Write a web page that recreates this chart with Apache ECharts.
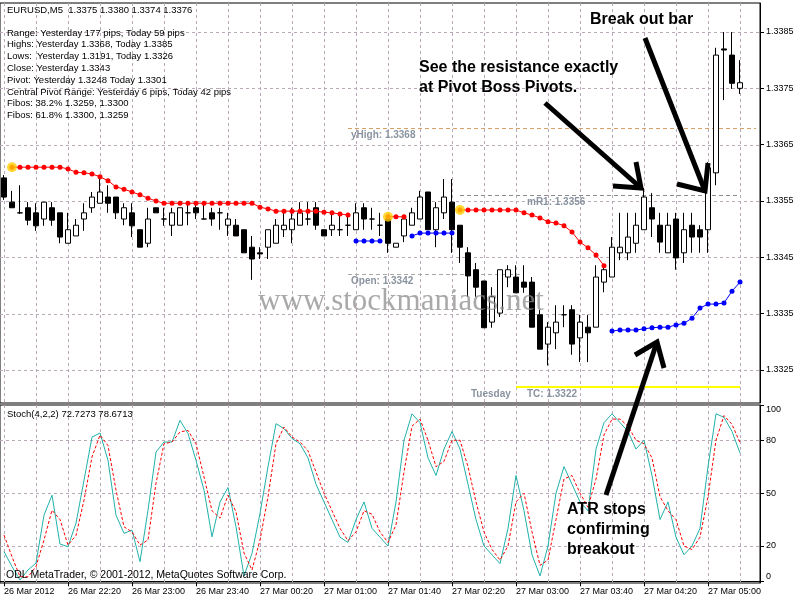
<!DOCTYPE html>
<html>
<head>
<meta charset="utf-8">
<script src="https://cdn.jsdelivr.net/npm/echarts@6/dist/echarts.min.js"></script>
<style>
html,body{margin:0;padding:0;background:#fff}
#chart{width:800px;height:600px}
</style>
</head>
<body>
<div id="chart"></div>
<script>
// EURUSD M5 bars, 26 Mar 2012 21:40 .. 27 Mar 05:20
const barOpen = [
 1.33591,1.33548,1.33529,1.33538,1.33529,1.33518,1.33538,1.33529,1.33475,1.33488,
 1.33518,1.33538,1.33546,1.33557,1.33557,1.33518,1.33529,1.33499,1.33475,1.33538,
 1.33518,1.33507,1.33507,1.33529,1.33538,1.33518,1.33529,1.33529,1.33507,1.33507,
 1.33499,1.33468,1.33458,1.33468,1.33475,1.33499,1.33499,1.33507,1.33518,1.33538,
 1.33499,1.33499,1.33499,1.33507,1.33499,1.33538,1.33518,1.33507,1.33518,1.33468,
 1.33488,1.33507,1.33518,1.33566,1.33499,1.33529,1.33548,1.33507,1.33458,1.33428,
 1.33408,1.33335,1.33351,1.33415,1.33415,1.33406,1.33406,1.33348,1.33296,1.33316,
 1.33348,1.33357,1.33307,1.33326,1.33326,1.33406,1.33415,1.33458,1.33458,1.33475,
 1.33499,1.33538,1.33507,1.33458,1.33518,1.33458,1.33507,1.33499,1.33499,1.33600,
 1.33820,1.33809,1.33750
];
const barHigh = [
 1.33596,1.33568,1.33578,1.33548,1.33546,1.33548,1.33548,1.33529,1.33529,1.33518,
 1.33546,1.33566,1.33596,1.33578,1.33557,1.33546,1.33546,1.33499,1.33538,1.33538,
 1.33538,1.33538,1.33538,1.33548,1.33548,1.33548,1.33538,1.33538,1.33529,1.33518,
 1.33499,1.33488,1.33468,1.33499,1.33518,1.33529,1.33538,1.33548,1.33548,1.33548,
 1.33499,1.33529,1.33529,1.33529,1.33546,1.33546,1.33538,1.33529,1.33518,1.33475,
 1.33525,1.33538,1.33568,1.33566,1.33548,1.33589,1.33589,1.33507,1.33468,1.33440,
 1.33408,1.33397,1.33428,1.33436,1.33436,1.33436,1.33415,1.33357,1.33335,1.33365,
 1.33365,1.33365,1.33348,1.33348,1.33436,1.33436,1.33486,1.33529,1.33529,1.33529,
 1.33573,1.33564,1.33529,1.33529,1.33529,1.33529,1.33529,1.33507,1.33619,1.33822,
 1.33850,1.33850,1.33800
];
const barLow = [
 1.33552,1.33538,1.33527,1.33507,1.33497,1.33506,1.33506,1.33475,1.33475,1.33488,
 1.33497,1.33529,1.33546,1.33529,1.33518,1.33507,1.33486,1.33468,1.33468,1.33529,
 1.33506,1.33488,1.33507,1.33507,1.33518,1.33518,1.33506,1.33499,1.33488,1.33488,
 1.33458,1.33410,1.33447,1.33447,1.33475,1.33486,1.33475,1.33507,1.33507,1.33499,
 1.33488,1.33488,1.33488,1.33488,1.33499,1.33499,1.33499,1.33488,1.33458,1.33468,
 1.33477,1.33507,1.33518,1.33499,1.33468,1.33518,1.33458,1.33440,1.33380,1.33380,
 1.33325,1.33325,1.33344,1.33397,1.33387,1.33387,1.33326,1.33287,1.33258,1.33287,
 1.33326,1.33277,1.33264,1.33264,1.33326,1.33388,1.33415,1.33445,1.33445,1.33458,
 1.33499,1.33486,1.33458,1.33458,1.33428,1.33440,1.33458,1.33458,1.33458,1.33578,
 1.33729,1.33749,1.33740
];
const barClose = [
 1.33557,1.33538,1.33529,1.33516,1.33506,1.33548,1.33516,1.33486,1.33499,1.33507,
 1.33529,1.33557,1.33566,1.33546,1.33529,1.33538,1.33506,1.33468,1.33518,1.33529,
 1.33518,1.33529,1.33538,1.33529,1.33529,1.33518,1.33518,1.33529,1.33518,1.33488,
 1.33458,1.33447,1.33456,1.33499,1.33507,1.33507,1.33518,1.33529,1.33518,1.33507,
 1.33488,1.33507,1.33499,1.33507,1.33529,1.33518,1.33518,1.33507,1.33475,1.33475,
 1.33518,1.33529,1.33557,1.33499,1.33538,1.33557,1.33499,1.33468,1.33417,1.33397,
 1.33325,1.33380,1.33428,1.33428,1.33387,1.33397,1.33326,1.33287,1.33326,1.33335,
 1.33348,1.33296,1.33335,1.33316,1.33415,1.33428,1.33468,1.33468,1.33486,1.33507,
 1.33557,1.33518,1.33477,1.33507,1.33449,1.33499,1.33486,1.33486,1.33609,1.33809,
 1.33818,1.33759,1.33760
];

// trailing stop dots: red above price, blue below price (null = not plotted)
const stopRed = [
 null,1.33610,1.33610,1.33610,1.33610,1.33610,1.33610,1.33610,1.33607,1.33601,
 1.33600,1.33598,1.33593,1.33586,1.33575,1.33571,1.33566,1.33561,1.33555,1.33550,
 1.33546,1.33546,1.33546,1.33546,1.33546,1.33546,1.33546,1.33546,1.33546,1.33546,
 1.33546,1.33546,1.33539,1.33536,1.33532,1.33532,1.33532,1.33532,1.33532,1.33532,
 1.33530,1.33529,1.33527,1.33525,null,null,null,null,1.33522,1.33522,
 1.33522,null,null,null,null,null,null,1.33534,1.33534,1.33534,
 1.33534,1.33534,1.33534,1.33534,1.33534,1.33529,1.33525,1.33520,1.33513,1.33511,
 1.33506,1.33495,1.33477,1.33467,1.33454,1.33435,null,null,null,null,
 null,null,null,null,null,null,null,null,null,null,
 null,null,null
];
const stopBlue = [
 null,null,null,null,null,null,null,null,null,null,
 null,null,null,null,null,null,null,null,null,null,
 null,null,null,null,null,null,null,null,null,null,
 null,null,null,null,null,null,null,null,null,null,
 null,null,null,null,1.33479,1.33479,1.33479,1.33479,null,null,
 null,1.33488,1.33493,1.33493,1.33493,1.33493,1.33493,null,null,null,
 null,null,null,null,null,null,null,null,null,null,
 null,null,null,null,null,null,1.33319,1.33321,1.33321,1.33321,
 1.33323,1.33325,1.33326,1.33326,1.33330,1.33333,1.33342,1.33360,1.33367,1.33367,
 1.33369,1.33390,1.33406
];
const stopStartBars = [1, 48, 57];

// Stochastic(4,2,2)
const stochMain = [
 16.8,8.3,0.7,6.4,10.3,37.5,48.8,21.1,19.6,33.0,
 57.3,81.8,84.1,68.6,37.5,27.2,29.0,11.1,40.3,73.3,
 79.0,79.0,91.3,83.8,68.6,51.7,25.2,45.0,53.2,30.9,
 3.0,15.8,38.5,65.0,89.4,86.6,81.0,78.0,70,55,
 45,35,25,22,35,45,30,25,20,45,
 80,95,90,70,60,75,85,75,55,35,
 20,15,10,30,60,40,15,3,20,50,
 65,55,45,40,75,90,95,90,85,75,
 80,60,35,45,25,15,20,30,65,95,
 93,85,72.73
];
const stochSignal = [
 26.2,13.9,2.6,2.5,8.3,23.4,40.3,35.0,20.5,26.0,
 46.0,70.5,82.9,77.0,51.7,30.9,28.0,20.5,23.4,55.6,
 78.0,79.0,84.7,85.6,78.0,59.2,40.0,35.8,48.8,39.4,
 16.0,6.4,23.4,47.9,78.0,87.5,81.8,79.0,74,62,
 50,40,30,23,28,40,38,28,22,32,
 62,88,92,80,65,68,80,80,65,45,
 28,18,12,20,45,50,28,9,12,35,
 58,60,50,42,58,83,92,92,88,80,
 78,70,48,40,35,20,18,25,48,80,
 94,89,78.67
];

const priceTicks = [1.3325, 1.3335, 1.3345, 1.3355, 1.3365, 1.3375, 1.3385];
const stochTicks = [0, 20, 50, 80, 100];
const stochLevels = [20, 50, 80];
const timeLabels = ['26 Mar 2012','26 Mar 22:20','26 Mar 23:00','26 Mar 23:40',
 '27 Mar 00:20','27 Mar 01:00','27 Mar 01:40','27 Mar 02:20','27 Mar 03:00',
 '27 Mar 03:40','27 Mar 04:20','27 Mar 05:00'];

// levels drawn by the pivot indicator
const yHigh = 1.3368, dayOpen = 1.3342, mR1 = 1.3356, tcLevel = 1.3322;
const bid = barClose[barClose.length - 1];

const infoLines = [
 'Range: Yesterday 177 pips, Today 59 pips',
 'Highs: Yesterday 1.3368, Today 1.3385',
 'Lows:  Yesterday 1.3191, Today 1.3326',
 'Close: Yesterday 1.3343',
 'Pivot: Yesterday 1.3248 Today 1.3301',
 'Central Pivot Range: Yesterday 6 pips, Today 42 pips',
 'Fibos: 38.2% 1.3259, 1.3300',
 'Fibos: 61.8% 1.3300, 1.3259'
];

const SLOTS = 95;            // bar slots incl. right-hand shift
const LABEL_STEP = 8, GRID_STEP = 4;
const FONT = 'Liberation Sans, Arial, sans-serif';
const GRID_COLOR = '#b9a9b9';

const cats = Array.from({length: SLOTS}, (_, i) => String(i));
const pad = a => a.concat(Array(SLOTS - a.length).fill(null));
const candles = barOpen.map((o, i) => [o, barClose[i], barLow[i], barHigh[i]]);
const showTime = i => i % LABEL_STEP === 0 && i / LABEL_STEP < timeLabels.length;

const chart = echarts.init(document.getElementById('chart'), null, {width: 800, height: 600});

const option = {
  animation: false,
  backgroundColor: '#fff',
  grid: [
    {left: 0, top: 3, width: 760, height: 400, show: true, borderColor: '#000', borderWidth: 1},
    {left: 0, top: 405, width: 760, height: 178, show: true, borderColor: '#000', borderWidth: 1}
  ],
  xAxis: [
    {type: 'category', gridIndex: 0, data: cats, boundaryGap: true,
     axisLine: {show: false}, axisTick: {show: false}, axisLabel: {show: false}, splitLine: {show: false}},
    {type: 'category', gridIndex: 1, data: cats, boundaryGap: true,
     axisLine: {show: true, lineStyle: {color: '#000'}},
     axisTick: {show: true, alignWithLabel: true, length: 5, lineStyle: {color: '#000'}, interval: showTime},
     axisLabel: {show: true, interval: showTime,
                 formatter: (v, i) => timeLabels[i / LABEL_STEP] || '',
                 align: 'left', margin: 4, color: '#000', fontFamily: FONT, fontSize: 9},
     splitLine: {show: false}}
  ],
  yAxis: [
    {type: 'value', gridIndex: 0, position: 'right', min: 1.331914, max: 1.339015, scale: true,
     axisLine: {show: true, lineStyle: {color: '#000'}},
     axisTick: {show: true, length: 4, customValues: priceTicks, lineStyle: {color: '#000'}},
     axisLabel: {show: true, customValues: priceTicks, formatter: v => v.toFixed(4),
                 margin: 6, color: '#000', fontFamily: FONT, fontSize: 9},
     splitLine: {show: false}},
    {type: 'value', gridIndex: 1, position: 'right', min: -1, max: 100,
     axisLine: {show: true, lineStyle: {color: '#000'}},
     axisTick: {show: true, length: 4, customValues: stochTicks, lineStyle: {color: '#000'}},
     axisLabel: {show: true, customValues: stochTicks, margin: 6, color: '#000',
                 fontFamily: FONT, fontSize: 9,
                 verticalAlignMaxLabel: 'top', verticalAlignMinLabel: 'bottom'},
     splitLine: {show: false}}
  ],
  series: [
    // indicator levels and bid line
    {type: 'line', xAxisIndex: 0, yAxisIndex: 0, data: pad(barClose), z: 2,
     symbol: 'none', lineStyle: {opacity: 0}, silent: true,
     markLine: {silent: true, symbol: ['none', 'none'], animation: false,
       label: {show: false},
       data: [
         [{coord: [43, yHigh], lineStyle: {type: [4, 3], color: '#d9a066', width: 1}}, {coord: [SLOTS - 1, yHigh]}],
         [{coord: [43, dayOpen], lineStyle: {type: [4, 3], color: '#a8a8a8', width: 1}}, {coord: [65, dayOpen]}],
         [{coord: [57, mR1], lineStyle: {type: [4, 3], color: '#8c8c8c', width: 1}}, {coord: [92, mR1]}],
         [{coord: [64, tcLevel], lineStyle: {type: 'solid', color: '#ffff00', width: 2}}, {coord: [92, tcLevel]}],
         {yAxis: bid, lineStyle: {type: 'solid', color: '#a8a8a8', width: 1},
          label: {show: true, position: 'end', distance: 2, formatter: bid.toFixed(4),
                  color: '#fff', backgroundColor: '#000', padding: [2, 3, 1, 3],
                  fontFamily: FONT, fontSize: 9}}
       ]}},
    {type: 'candlestick', xAxisIndex: 0, yAxisIndex: 0, data: candles, z: 5, barWidth: 5,
     itemStyle: {color: '#fff', color0: '#000', borderColor: '#000', borderColor0: '#000',
                 borderColorDoji: '#000', borderWidth: 1}},
    {type: 'line', xAxisIndex: 0, yAxisIndex: 0, data: pad(stopRed), z: 6,
     symbol: 'circle', symbolSize: 5, showAllSymbol: true, connectNulls: false,
     itemStyle: {color: '#ff0000'}, lineStyle: {color: '#ff0000', width: 1}},
    {type: 'line', xAxisIndex: 0, yAxisIndex: 0, data: pad(stopBlue), z: 6,
     symbol: 'circle', symbolSize: 5, showAllSymbol: true, connectNulls: false,
     itemStyle: {color: '#0000ff'}, lineStyle: {color: '#0000ff', width: 1}},
    {type: 'scatter', xAxisIndex: 0, yAxisIndex: 0, z: 7, symbolSize: 10,
     data: stopStartBars.map(i => [i, stopRed[i]]), itemStyle: {color: '#ffcc00'}},
    {type: 'line', xAxisIndex: 1, yAxisIndex: 1, data: pad(stochMain), z: 6,
     symbol: 'none', lineStyle: {color: '#20b2aa', width: 1}},
    {type: 'line', xAxisIndex: 1, yAxisIndex: 1, data: pad(stochSignal), z: 6,
     symbol: 'none', lineStyle: {color: '#ff0000', width: 1, type: [3, 2]}}
  ]
};
chart.setOption(option);

// grid lines, text overlays and hand-drawn arrows
const px = (bar, price) => chart.convertToPixel({gridIndex: 0}, [bar, price]);
const pxStoch = (bar, v) => chart.convertToPixel({gridIndex: 1}, [bar, v]);
const crisp = v => Math.round(v) + 0.5;
const gridLine = (x1, y1, x2, y2) => ({type: 'line', z: 1, silent: true,
  shape: {x1, y1, x2, y2}, style: {stroke: GRID_COLOR, lineWidth: 1, lineDash: [3, 3]}});

const graphics = [];
const mainTop = 3, mainBottom = 403, stochTop = 405, stochBottom = 583, rightEdge = 760;
priceTicks.forEach(v => { const y = crisp(px(0, v)[1]); graphics.push(gridLine(0, y, rightEdge, y)); });
stochLevels.forEach(v => { const y = crisp(pxStoch(0, v)[1]); graphics.push(gridLine(0, y, rightEdge, y)); });
for (let i = 0; i < barOpen.length; i += GRID_STEP) {
  const x = crisp(px(i, priceTicks[0])[0]);
  graphics.push(gridLine(x, mainTop, x, mainBottom));
  graphics.push(gridLine(x, stochTop, x, stochBottom));
}

const txt = (x, y, text, font, fill, extra) => Object.assign({
  type: 'text', x, y, z: 100, silent: true,
  style: Object.assign({text, font, fill, textAlign: 'left', textVerticalAlign: 'middle'}, extra || {})
});
const levelLabel = (bar, price, text) => {
  const p = px(bar, price);
  return txt(p[0] + 3, p[1] + 7, text, 'bold 10px ' + FONT, '#8a94a0');
};

graphics.push(txt(7, 10, 'EURUSD,M5  1.3375 1.3380 1.3374 1.3376', '9.5px ' + FONT, '#000'));
infoLines.forEach((t, k) => graphics.push(txt(7, 33 + k * 11.8, t, '9.5px ' + FONT, '#000')));
graphics.push(txt(7, 414, 'Stoch(4,2,2) 72.7273 78.6713', '9.5px ' + FONT, '#000'));
graphics.push(txt(6, 575, 'ODL MetaTrader, \u00a9 2001-2012, MetaQuotes Software Corp.', '10.5px ' + FONT, '#000'));

graphics.push(levelLabel(43, yHigh, 'yHigh: 1.3368'));
graphics.push(levelLabel(43, dayOpen, 'Open: 1.3342'));
graphics.push(levelLabel(65, mR1, 'mR1: 1.3356'));
graphics.push(levelLabel(58, tcLevel, 'Tuesday'));
graphics.push(levelLabel(65, tcLevel, 'TC: 1.3322'));

graphics.push({type: 'text', x: 401, y: 302, z: 90, silent: true,
  style: {text: 'www.stockmaniacs.net', font: '31px Liberation Serif, Times New Roman, serif',
          fill: 'rgba(140,140,140,0.75)', textAlign: 'center', textVerticalAlign: 'middle'}});

const noteFont = 'bold 16px ' + FONT;
graphics.push(txt(590, 20, 'Break out bar', noteFont, '#000'));
graphics.push(txt(419, 68, 'See the resistance exactly', noteFont, '#000'));
graphics.push(txt(419, 88, 'at Pivot Boss Pivots.', noteFont, '#000'));
graphics.push(txt(567, 510, 'ATR stops', noteFont, '#000'));
graphics.push(txt(567, 530, 'confirming', noteFont, '#000'));
graphics.push(txt(567, 550, 'breakout', noteFont, '#000'));

const arrows = [
  {from: [545, 103], tip: [641, 188], wings: [[613, 186], [636, 162]]},
  {from: [645, 38], tip: [705, 191], wings: [[677, 184], [708, 163]]},
  {from: [606, 495], tip: [657, 342], wings: [[635, 355], [664, 368]]}
];
arrows.forEach(a => {
  graphics.push({type: 'line', z: 95, silent: true,
    shape: {x1: a.from[0], y1: a.from[1], x2: a.tip[0], y2: a.tip[1]},
    style: {stroke: '#000', lineWidth: 5}});
  graphics.push({type: 'polyline', z: 95, silent: true,
    shape: {points: [a.wings[0], a.tip, a.wings[1]]},
    style: {stroke: '#000', lineWidth: 5, fill: null, lineJoin: 'miter'}});
});

chart.setOption({graphic: {elements: graphics}});
</script>
</body>
</html>
